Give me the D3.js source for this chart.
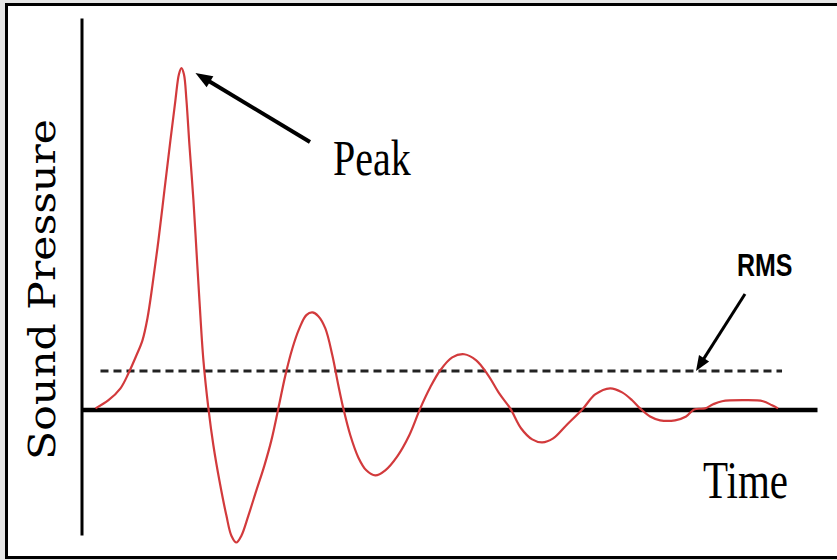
<!DOCTYPE html>
<html><head><meta charset="utf-8">
<script src="https://cdn.jsdelivr.net/npm/d3@7"></script>
<style>html,body{margin:0;padding:0;background:#e6e6e6;} svg{display:block;}</style>
</head><body><svg id="c" width="837" height="560"></svg>
<script>
// ---- data ----
const time = [0,2.6,5,6.6,8.2,9.4,10.4,11.4,12.6,13.8,15,16,16.7,17.2,17.7,18.2,18.8,19.6,20.2,20.8,21.6,22.6,23.6,24.8,26.2,27.2,28.2,29.2,30.6,32.2,33.8,35.2,36.6,38,39.4,40.8,42.2,43.4,44.6,46,47.4,48.6,49.6,51,52.6,54.2,56,58,60.4,62.8,65,67,69,71.4,73.8,76.2,78.6,80.8,83,85.2,87.4,89.4,91.6,94.2,97.6,100,103,105.4,107.4,109,111,113,116,118.2,119.8,122,123.6,125.4,130,133.6,135.4,136.6];
const pressure = [0,2.4,5.9,10.3,15.6,20,26.5,36.2,49.4,64.1,78.8,90.6,98.2,100,98.2,90.6,77.4,61.2,46.5,31.8,14.1,0,-10.9,-21.2,-31.5,-37.4,-39.4,-37.4,-31.5,-24.1,-16.8,-9.4,0,9.7,17.6,23.5,27.4,28.2,27.1,23.5,15.6,6.8,0,-7.9,-14.4,-18.2,-19.7,-18.2,-14.1,-7.9,0,6.2,11.2,15,15.9,14.1,9.7,4.4,0,-5.9,-9.1,-10,-8.8,-5,0,4.1,5.9,4.7,2.4,0,-2.4,-3.5,-3.5,-2.4,-0.3,0,1.2,2.1,2.4,2.1,0.9,0];
const rmsLevel = 11;
const rmsSpan = [1, 137.4];
const timeDomain = [-2.8, 144.4];
const pressureDomain = [-37.2, 114.7];
const xLabel = "Time";
const yLabel = "Sound Pressure";
const peakLabel = "Peak";
const rmsLabel = "RMS";

// ---- drawing ----
const svg = d3.select("#c");
svg.append("rect").attr("x",6.5).attr("y",4.5).attr("width",845).attr("height",553)
  .attr("fill","#fff").attr("stroke","#000").attr("stroke-width",3);

const x = d3.scaleLinear().domain(timeDomain).range([81.5, 817]);
const y = d3.scaleLinear().domain(pressureDomain).range([535, 18]);

// y axis (no ticks)
const yAx = svg.append("g").attr("transform",`translate(${x(timeDomain[0])},0)`)
  .call(d3.axisLeft(y).tickValues([]).tickSizeOuter(0));
yAx.select(".domain").attr("stroke","#000").attr("stroke-width",3);

// RMS dashed line
svg.append("line").attr("x1",x(rmsSpan[0])).attr("x2",x(rmsSpan[1]))
  .attr("y1",y(rmsLevel)).attr("y2",y(rmsLevel))
  .attr("stroke","#222").attr("stroke-width",3).attr("stroke-dasharray","8,5");

// x axis (no ticks)
const xAx = svg.append("g").attr("transform",`translate(0,${y(0)+1})`)
  .call(d3.axisBottom(x).tickValues([]).tickSizeOuter(0));
xAx.select(".domain").attr("stroke","#000").attr("stroke-width",4.5);

// sound pressure curve
const pts = time.map((t,i)=>[t,pressure[i]]);
svg.append("path").datum(pts)
  .attr("d", d3.line().x(d=>x(d[0])).y(d=>y(d[1])).curve(d3.curveCatmullRom.alpha(0.5)))
  .attr("fill","none").attr("stroke","#d23a3c").attr("stroke-width",2.2);

// arrows
function arrow(x1,y1,x2,y2,w,hl,hw){
  const dx=x2-x1, dy=y2-y1, L=Math.hypot(dx,dy), ux=dx/L, uy=dy/L;
  const bx=x2-ux*hl, by=y2-uy*hl;
  svg.append("line").attr("x1",x1).attr("y1",y1).attr("x2",bx+ux*1).attr("y2",by+uy*1)
    .attr("stroke","#000").attr("stroke-width",w);
  svg.append("path").attr("d",`M${x2},${y2}L${bx-uy*hw/2},${by+ux*hw/2}L${bx+uy*hw/2},${by-ux*hw/2}Z`)
    .attr("fill","#000");
}
const peakIdx = pressure.indexOf(d3.max(pressure));
const px = x(time[peakIdx]), py = y(pressure[peakIdx]);
arrow(310,142, px+14, py+5, 4, 17, 13);
arrow(745,294, 696, y(rmsLevel), 3, 15, 12);

// texts
function txt(s,tx,ty,size,fam,weight,tr){
  svg.append("text").attr("transform",`translate(${tx},${ty}) ${tr}`)
    .attr("font-family",fam).attr("font-size",size).attr("font-weight",weight)
    .attr("fill","#000").text(s);
}
txt(peakLabel,333,175,40,"Liberation Serif","normal","scale(1,1.27)");
txt(xLabel,703,498,41,"Liberation Serif","normal","scale(1,1.28)");
txt(rmsLabel,737,276,25,"Liberation Sans","bold","scale(1,1.26)");
txt(yLabel,55,460,37,"DejaVu Serif","normal","rotate(-90) scale(1.15,1)");
</script></body></html>
